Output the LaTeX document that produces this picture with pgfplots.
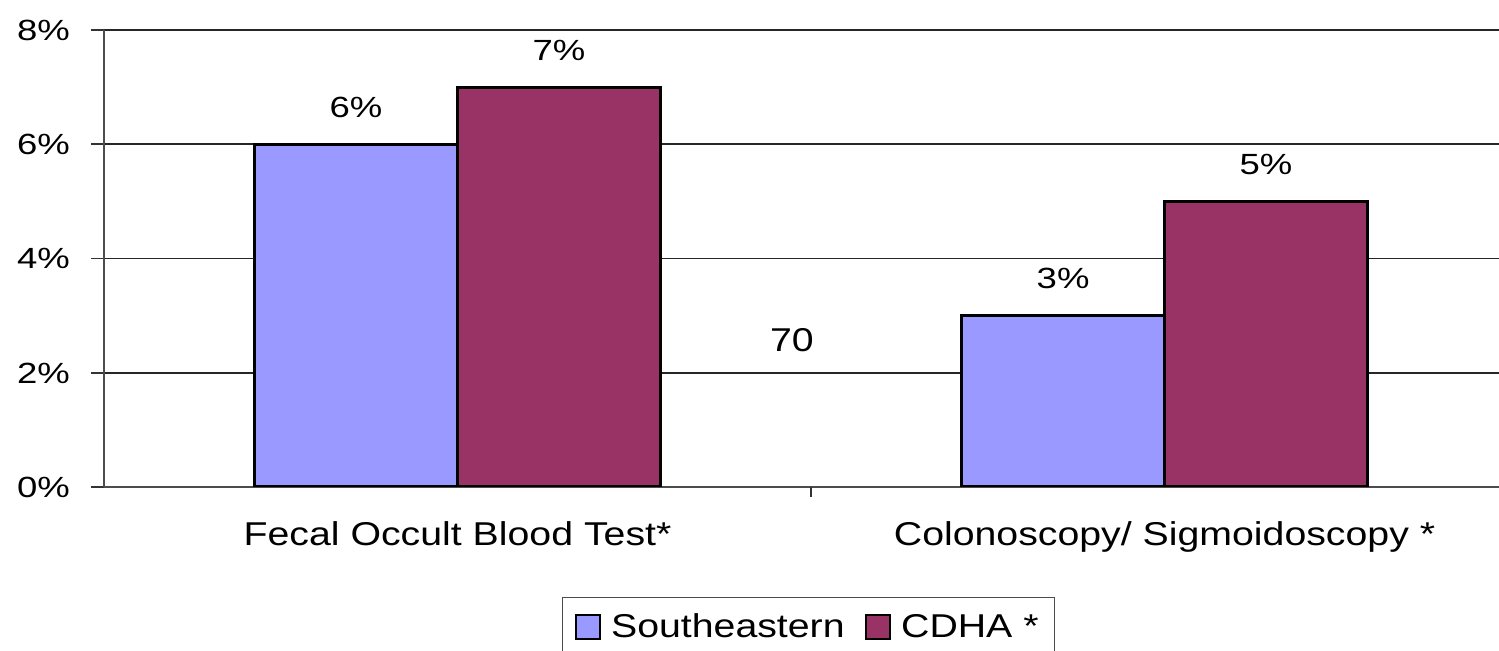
\documentclass[border=0pt]{standalone}
\usepackage{fontspec}
\setmainfont{Liberation Sans}[FakeStretch=1.25]
\newfontfamily\labelfont{Liberation Sans}[FakeStretch=1.19]
\usepackage{pgfplots}
\pgfplotsset{compat=1.18}
\definecolor{seBlue}{HTML}{9999FF}
\definecolor{cdhaPlum}{HTML}{993366}
\newcommand{\catfont}{\labelfont\fontsize{16.5}{19}\selectfont}

\begin{document}
\begin{tikzpicture}[font=\fontsize{14.6}{17}\selectfont]
\begin{axis}[
  scale only axis, width=697.5pt, height=228.5pt,
  xmin=-0.5, xmax=1.473, ymin=0, ymax=8,
  axis x line*=bottom, axis y line*=left,
  axis line style={black!70, line width=1pt},
  ytick={0,2,4,6,8}, yticklabels={0\%,2\%,4\%,6\%,8\%},
  ymajorgrids, grid style={black!85, line width=0.8pt},
  tick align=outside, major tick length=6.5pt,
  ytick style={black!80, line width=0.8pt},
  yticklabel style={anchor=base east, xshift=-7pt, yshift=-5.2pt},
  xtick={0,1},
  xticklabels={Fecal Occult Blood Test*, Colonoscopy/ Sigmoidoscopy *},
  xtick style={draw=none},
  xticklabel style={anchor=base, yshift=-22.7pt, font=\catfont},
  extra x ticks={0.5}, extra x tick labels={},
  extra x tick style={xtick style={draw=black!80, line width=0.8pt}, major tick length=5pt},
  ybar, bar width=0.287,
  nodes near coords={\pgfmathprintnumber[assume math mode=true]{\pgfplotspointmeta}\%},
  every node near coord/.append style={anchor=center, yshift=18.5pt, black},
  legend columns=2,
  legend style={at={(axis description cs:0.3283,-0.2407)}, anchor=north west,
    draw=black!70, line width=0.6pt, inner xsep=6pt, inner ysep=6pt, font=\catfont,
    /tikz/every even column/.append style={column sep=8pt}},
  legend image code/.code={\draw[#1, line width=1pt] (0pt,-6pt) rectangle (12pt,6pt);
    \path (15pt,0pt);},
]
\addplot[fill=seBlue, draw=black, line width=1.5pt, bar shift=-0.1435]
  coordinates {(0,6) (1,3)};
\addplot[fill=cdhaPlum, draw=black, line width=1.5pt, bar shift=0.1435]
  coordinates {(0,7) (1,5)};
\legend{Southeastern, CDHA *}
\node[font=\catfont] at (axis cs:0.473,2.573) {70};
\coordinate (bl) at (rel axis cs:0,0);
\coordinate (tr) at (rel axis cs:1,1);
\end{axis}
\pgfresetboundingbox
\path[use as bounding box] ([shift={(-52pt,-82pt)}]bl) rectangle ([shift={(0pt,15pt)}]tr);
\end{tikzpicture}
\end{document}
